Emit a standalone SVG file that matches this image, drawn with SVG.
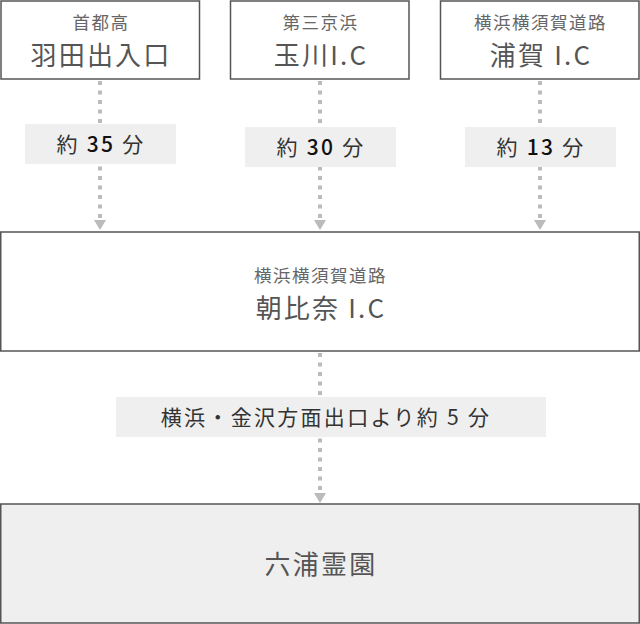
<svg xmlns="http://www.w3.org/2000/svg" width="640" height="624" viewBox="0 0 640 624">
<defs>
<style>
.box{fill:#fff;stroke:#555;stroke-width:1.5}
.gbox{fill:#efefef;stroke:#555;stroke-width:1.5}
.lbl{fill:#efefef}
.sub{font-family:"Noto Sans CJK JP","Noto Sans",sans-serif;font-size:17.5px;fill:#666;text-anchor:middle;letter-spacing:1.5px}
.main{font-family:"Noto Sans CJK JP","Noto Sans",sans-serif;font-size:26px;fill:#555;text-anchor:middle;letter-spacing:2.2px}
.time{font-family:"Noto Sans CJK JP","Noto Sans",sans-serif;font-size:21px;fill:#333;text-anchor:middle;letter-spacing:2.3px}
.num{font-weight:500;fill:#111}
.conn{stroke:#bbb;stroke-width:4;stroke-dasharray:4 5.5;fill:none}
.head{fill:#bbb}
</style>
</defs>
<g id="connectors">
<line class="conn" x1="100" y1="81" x2="100" y2="220"/>
<polygon class="head" points="94,220 106,220 100,230"/>
<line class="conn" x1="320" y1="81" x2="320" y2="220"/>
<polygon class="head" points="314,220 326,220 320,230"/>
<line class="conn" x1="540" y1="81" x2="540" y2="220"/>
<polygon class="head" points="534,220 546,220 540,230"/>
<line class="conn" x1="320" y1="353" x2="320" y2="493"/>
<polygon class="head" points="314,493 326,493 320,503"/>
</g>
<g id="node-haneda">
<rect class="box" x="1" y="1" width="198.5" height="78"/>
<text class="sub" x="101" y="29">首都高</text>
<text class="main" x="101" y="65">羽田出入口</text>
</g>
<g id="node-tamagawa">
<rect class="box" x="230.5" y="1" width="178.5" height="78"/>
<text class="sub" x="320.5" y="29">第三京浜</text>
<text class="main" x="321" y="65">玉川I.C</text>
</g>
<g id="node-uraga">
<rect class="box" x="440.5" y="1" width="198.5" height="78"/>
<text class="sub" x="540.5" y="29">横浜横須賀道路</text>
<text class="main" x="541" y="65">浦賀 I.C</text>
</g>
<g id="label-35">
<rect class="lbl" x="25" y="124" width="151" height="40"/>
<text class="time" x="101" y="152">約 <tspan class="num">35</tspan> 分</text>
</g>
<g id="label-30">
<rect class="lbl" x="245" y="127" width="151" height="40"/>
<text class="time" x="321" y="155">約 <tspan class="num">30</tspan> 分</text>
</g>
<g id="label-13">
<rect class="lbl" x="465" y="127" width="151" height="40"/>
<text class="time" x="541" y="155">約 <tspan class="num">13</tspan> 分</text>
</g>
<g id="node-asahina">
<rect class="box" x="0.75" y="232" width="638.5" height="119"/>
<text class="sub" x="320.5" y="282">横浜横須賀道路</text>
<text class="main" x="321" y="318">朝比奈 I.C</text>
</g>
<g id="label-5">
<rect class="lbl" x="116" y="397" width="430" height="40"/>
<text class="time" x="326" y="425">横浜・金沢方面出口より約 5 分</text>
</g>
<g id="node-mutsuura">
<rect class="gbox" x="0.75" y="504" width="638.5" height="119"/>
<text class="main" x="321" y="574">六浦霊園</text>
</g>
</svg>
